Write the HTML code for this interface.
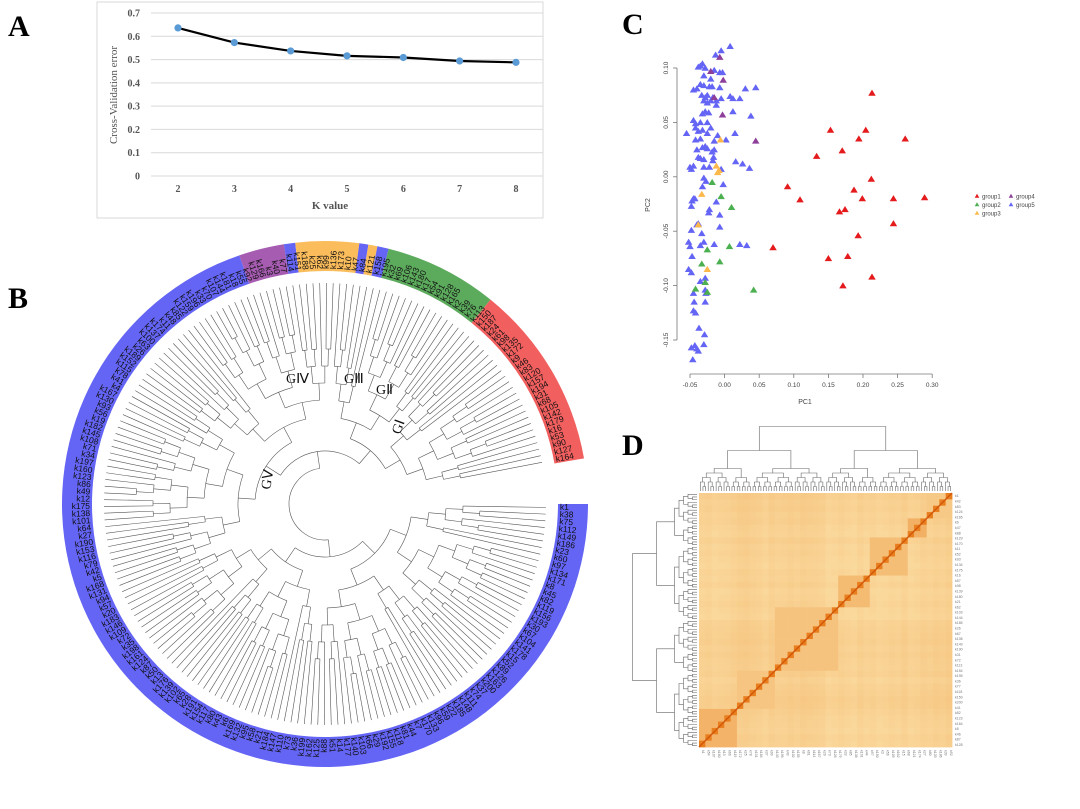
<!DOCTYPE html>
<html><head><meta charset="utf-8"><style>
html,body{margin:0;padding:0;background:#fff}
svg{display:block}
text{font-family:"Liberation Serif",serif}
.sans{font-family:"Liberation Sans",sans-serif}
</style></head><body>
<svg id="fig" width="1080" height="809" viewBox="0 0 1080 809" xmlns="http://www.w3.org/2000/svg">
<text x="8" y="36" font-size="30" font-weight="bold">A</text>
<text x="8" y="308" font-size="30" font-weight="bold">B</text>
<text x="622" y="34" font-size="30" font-weight="bold">C</text>
<text x="622" y="455" font-size="30" font-weight="bold">D</text>
<g id="panelA"></g>
<g id="panelB"></g>
<g id="panelC"></g>
<g id="panelD"></g>
</svg>
<script>
const NS="http://www.w3.org/2000/svg";
function mk(tag,attrs,parent,txt){const e=document.createElementNS(NS,tag);for(const k in attrs)e.setAttribute(k,attrs[k]);if(txt!==undefined)e.textContent=txt;parent.appendChild(e);return e;}

/* ---------- Panel A data ---------- */
const kValues=[2,3,4,5,6,7,8];
const cvError=[0.636,0.573,0.537,0.516,0.509,0.494,0.488];
const cvTicks=[0,0.1,0.2,0.3,0.4,0.5,0.6,0.7];

/* ---------- Panel C data ---------- */
const g1x=[0.213,0.153,0.204,0.261,0.194,0.17,0.133,0.212,0.091,0.187,0.109,0.199,0.244,0.289,0.166,0.174,0.244,0.193,0.07,0.15,0.178,0.213,0.171];
const g1y=[0.077,0.043,0.043,0.035,0.035,0.024,0.019,-0.002,-0.009,-0.012,-0.021,-0.02,-0.02,-0.019,-0.032,-0.03,-0.043,-0.054,-0.065,-0.075,-0.073,-0.092,-0.1];
const g2x=[-0.018,-0.005,0.01,0.007,-0.025,-0.033,-0.007,-0.042,-0.028,-0.025,0.042];
const g2y=[-0.005,-0.018,-0.028,-0.064,-0.067,-0.08,-0.078,-0.103,-0.097,-0.106,-0.104];
const g3x=[-0.006,-0.012,-0.008,-0.033,-0.025,-0.038,-0.01];
const g3y=[0.034,0.01,0.006,-0.016,-0.085,-0.044,0.004];
const g4x=[-0.007,-0.02,-0.002,-0.003,0.045,-0.015];
const g4y=[0.11,0.097,0.089,0.057,0.033,0.073];
const g5x=[0.008,-0.005,-0.013,-0.035,-0.032,-0.038,-0.028,-0.015,-0.007,-0.003,-0.03,-0.02,-0.035,-0.03,-0.022,-0.018,-0.007,-0.045,-0.04,0.03,0.045,-0.033,-0.028,-0.025,-0.02,-0.017,-0.012,-0.005,0.008,0.012,0.022,-0.03,-0.025,-0.012,-0.032,-0.028,-0.023,0.012,0.038,-0.045,-0.042,-0.035,-0.025,-0.055,-0.042,-0.038,-0.032,-0.02,-0.025,-0.01,0.015,-0.042,-0.035,-0.015,0.002,-0.04,-0.032,-0.028,-0.025,-0.018,-0.015,-0.038,-0.035,-0.03,-0.016,-0.017,-0.05,-0.048,-0.045,-0.03,-0.022,-0.005,0.016,0.026,0.036,-0.03,-0.027,-0.032,-0.002,-0.045,-0.047,-0.043,-0.012,-0.048,-0.022,-0.023,-0.007,-0.04,-0.038,-0.007,-0.048,-0.033,-0.052,-0.05,-0.035,-0.03,-0.015,0.022,0.032,-0.047,-0.052,-0.048,-0.035,-0.028,-0.045,-0.028,-0.027,-0.028,-0.044,-0.045,-0.042,-0.037,-0.029,-0.048,-0.043,-0.04,-0.038,-0.03,-0.046];
const g5y=[0.12,0.116,0.112,0.102,0.104,0.101,0.1,0.098,0.096,0.096,0.093,0.09,0.085,0.084,0.083,0.083,0.082,0.08,0.081,0.081,0.082,0.075,0.073,0.075,0.07,0.073,0.07,0.072,0.074,0.072,0.072,0.07,0.068,0.066,0.058,0.06,0.059,0.06,0.056,0.052,0.049,0.05,0.05,0.04,0.045,0.042,0.043,0.045,0.04,0.038,0.04,0.034,0.035,0.033,0.034,0.025,0.027,0.028,0.026,0.023,0.025,0.018,0.017,0.016,0.018,0.015,0.009,0.007,0.01,0.009,0.009,0.007,0.014,0.012,0.008,-0.001,-0.004,-0.009,-0.007,-0.02,-0.022,-0.02,-0.023,-0.027,-0.03,-0.033,-0.035,-0.044,-0.043,-0.046,-0.049,-0.052,-0.06,-0.064,-0.063,-0.06,-0.062,-0.062,-0.063,-0.073,-0.085,-0.088,-0.096,-0.093,-0.107,-0.104,-0.107,-0.115,-0.115,-0.123,-0.125,-0.139,-0.145,-0.157,-0.155,-0.158,-0.16,-0.154,-0.168];
const pcXTicks=[-0.05,0,0.05,0.1,0.15,0.2,0.25,0.3];
const pcXTickLabels=["-0.05","0.00","0.05","0.10","0.15","0.20","0.25","0.30"];
const pcYTicks=[0.1,0.05,0,-0.05,-0.1,-0.15];
const pcYTickLabels=["0.10","0.05","0.00","-0.05","-0.10","-0.15"];

/* ---------- Panel B data ---------- */
const treeGroups=["blue","purple","blue","orange","blue","orange","blue","green","red"];
const groupSpanDeg=[[0,251],[251,261],[261,263.5],[263.5,277.5],[277.5,279.5],[279.5,281.5],[281.5,284],[284,309],[309,350]];
const groupColors={blue:"#6464f5",purple:"#a65cb0",orange:"#fbbd5c",green:"#5caa5c",red:"#f25f5f"};

/* ---------- Panel D data ---------- */
const hmRowBase=[0.3,0.26,0.28,0.24,0.26,0.22,0.2,0.26,0.21,0.23,0.2,0.18,0.22,0.2,0.24,0.18,0.2,0.23,0.2,0.18,0.25,0.27,0.28,0.3,0.26,0.29,0.26,0.25,0.28,0.22,0.26,0.28,0.31,0.3,0.26,0.23,0.22,0.2,0.24,0.22];
const hmBlocks=[[0,6,0.45],[6,12,0.33],[12,22,0.34],[22,27,0.4],[27,33,0.38],[33,36,0.48],[36,40,0.3]];

/* ===== Panel A ===== */
(function(){
const g=document.getElementById('panelA');
mk('rect',{x:97,y:2,width:446,height:216,fill:'#fff',stroke:'#d9d9d9','stroke-width':1},g);
const y=v=>176-v/0.7*163, x=k=>178+(k-2)*56.33;
cvTicks.forEach(t=>{
 const l=mk('line',{x1:151,x2:543,y1:y(t),y2:y(t),stroke:'#d9d9d9','stroke-width':1},g);
 
 const tx=mk('text',{x:140,y:y(t)+3.5,'font-size':10,'font-weight':'bold','text-anchor':'end',fill:'#555'},g,t===0?'0':t.toFixed(1));
 
});
kValues.forEach(k=>{const tx=mk('text',{x:x(k),y:192,'font-size':10,'font-weight':'bold','text-anchor':'middle',fill:'#555'},g,String(k));
 });
let d='';kValues.forEach((k,i)=>{d+=(i?'L':'M')+x(k)+','+y(cvError[i]);});
const p=mk('path',{d:d,fill:'none',stroke:'#000','stroke-width':2.2},g);

kValues.forEach((k,i)=>{const c=mk('circle',{cx:x(k),cy:y(cvError[i]),r:3.6,fill:'#5b9bd5'},g);
 });
const xl=mk('text',{x:330,y:209,'font-size':11,'font-weight':'bold','text-anchor':'middle',fill:'#555'},g,'K value');

const yl=mk('text',{x:0,y:0,'font-size':11,'text-anchor':'middle',fill:'#555',transform:'translate(117,95) rotate(-90)'},g,'Cross-Validation error');

})();

/* ===== Panel C ===== */
(function(){
const g=document.getElementById('panelC');
const px=v=>690+(v+0.05)/0.05*34.6, py=v=>68-(v-0.1)/0.05*54.4;
mk('line',{x1:677,x2:677,y1:py(0.1),y2:py(-0.15),stroke:'#777','stroke-width':0.8},g);
mk('line',{x1:px(-0.05),x2:px(0.3),y1:374,y2:374,stroke:'#777','stroke-width':0.8},g);
pcXTicks.forEach((t,i)=>{mk('line',{x1:px(t),x2:px(t),y1:374,y2:378,stroke:'#777','stroke-width':0.8},g);
 const tx=mk('text',{x:px(t),y:387,'font-size':6.5,'text-anchor':'middle',fill:'#444',class:'sans'},g,pcXTickLabels[i]);
 });
pcYTicks.forEach((t,i)=>{mk('line',{x1:673,x2:677,y1:py(t),y2:py(t),stroke:'#777','stroke-width':0.8},g);
 const tx=mk('text',{x:0,y:0,'font-size':6.5,'text-anchor':'middle',fill:'#444',class:'sans',transform:`translate(668,${py(t)}) rotate(-90)`},g,pcYTickLabels[i]);
 });
const a=mk('text',{x:805,y:404,'font-size':7,'text-anchor':'middle',fill:'#444',class:'sans'},g,'PC1');
const b=mk('text',{x:0,y:0,'font-size':7,'text-anchor':'middle',fill:'#444',class:'sans',transform:'translate(650,205) rotate(-90)'},g,'PC2');
function tri(cx,cy,col,name){const s=3.4;const t=mk('polygon',{points:`${cx},${cy-s} ${cx-s*1.1},${cy+s*0.8} ${cx+s*1.1},${cy+s*0.8}`,fill:col},g);
 }
const sets=[[g5x,g5y,'#6464f5','group5-point'],[g2x,g2y,'#4caf50','group2-point'],[g3x,g3y,'#fdb84c','group3-point'],[g4x,g4y,'#8e3f9a','group4-point'],[g1x,g1y,'#e41a1c','group1-point']];
sets.forEach(s=>s[0].forEach((v,i)=>tri(px(v),py(s[1][i]),s[2],s[3])));
const leg=[['group1','#e41a1c',977,196],['group2','#4caf50',977,204.5],['group3','#fdb84c',977,213],['group4','#8e3f9a',1011,196],['group5','#6464f5',1011,204.5]];
leg.forEach(l=>{const lg=mk('g',{},g);
 mk('polygon',{points:`${l[2]},${l[3]-2.3} ${l[2]-2.3},${l[3]+1.7} ${l[2]+2.3},${l[3]+1.7}`,fill:l[1]},lg);
 mk('text',{x:l[2]+5,y:l[3]+2.3,'font-size':6,fill:'#444',class:'sans'},lg,l[0]);});
})();

/* ===== Panel B ===== */
(function(){
const g=document.getElementById('panelB');
const cx=325,cy=504,rIn=233,rOut=263;
const rad=d=>d*Math.PI/180;
const P=(r,d)=>[cx+r*Math.cos(rad(d)),cy+r*Math.sin(rad(d))];
groupSpanDeg.forEach((s,i)=>{const [a0,a1]=s;const p1=P(rOut,a0),p2=P(rOut,a1),p3=P(rIn,a1),p4=P(rIn,a0);const lg=(a1-a0)>180?1:0;
 const e=mk('path',{d:`M${p1}A${rOut},${rOut} 0 ${lg} 1 ${p2}L${p3}A${rIn},${rIn} 0 ${lg} 0 ${p4}Z`,fill:groupColors[treeGroups[i]]},g);
 });
const N=200,step=350/N;
const ang=i=>step*(i+0.5);
for(let i=0;i<N;i++){const a=ang(i);const num=((i*37)%200)+1;const [x,y]=P(rIn+2,a);
 let rot=a, anchor='start';
 if(a>90&&a<270){rot=a+180;anchor='end';}
 const t=mk('text',{x:x,y:y,'font-size':8.5,fill:'#111','text-anchor':anchor,'dominant-baseline':'middle',class:'sans',transform:`rotate(${rot},${x},${y})`},g,'k'+num);
 }
const tg=mk('g',{stroke:'#555','stroke-width':0.6,fill:'none'},g);

const rNode=dp=>Math.min(36+dp*17,195);
function build(a,b,dp){
 if(b-a===1)return{ang:ang(a),r:rIn-12};
 const f=[0.45,0.6,0.5,0.3,0.7,0.55][dp%6];
 let m=a+Math.max(1,Math.min(b-a-1,Math.round((b-a)*f)));
 const r=rNode(dp);
 const L=build(a,m,dp+1),R=build(m,b,dp+1);
 [L,R].forEach(c=>{const p1=P(r,c.ang),p2=P(c.r,c.ang);mk('line',{x1:p1[0],y1:p1[1],x2:p2[0],y2:p2[1]},tg);});
 const p1=P(r,L.ang),p2=P(r,R.ang);const lg=(R.ang-L.ang)>180?1:0;
 mk('path',{d:`M${p1}A${r},${r} 0 ${lg} 1 ${p2}`},tg);
 return{ang:(L.ang+R.ang)/2,r:r};}
build(0,N,0);
const labs=[['GⅤ',270,490,-80],['GⅣ',286,383,0],['GⅢ',344,383,0],['GⅡ',376,394,0],['GⅠ',400,435,-70]];
labs.forEach(l=>{const t=mk('text',{x:l[1],y:l[2],'font-size':14,fill:'#111',transform:`rotate(${l[3]},${l[1]},${l[2]})`},g,l[0]);
 });
})();

/* ===== Panel D ===== */
(function(){
const g=document.getElementById('panelD');
const X0=699,Y0=493,W=253,H=254,n=hmRowBase.length,cw=W/n,ch=H/n;
function val(i,j){
 const ri=n-1-i; if(ri===j)return 0.85;
 let v=(hmRowBase[i]+hmRowBase[n-1-j])/2;
 hmBlocks.forEach(b=>{if(ri>=b[0]&&ri<b[1]&&j>=b[0]&&j<b[1])v=Math.max(v,b[2]);});
 return v;}
function col(v){const c0=[255,242,192],c1=[228,105,0];const t=Math.min(1,v);return `rgb(${c0.map((c,k)=>Math.round(c+(c1[k]-c)*t)).join(',')})`;}
const hg=mk('g',{},g);
for(let i=0;i<n;i++)for(let j=0;j<n;j++){
 mk('rect',{x:X0+j*cw,y:Y0+i*ch,width:cw+0.4,height:ch+0.4,fill:col(val(i,j))},hg);}
mk('line',{x1:X0,y1:Y0+H,x2:X0+W,y2:Y0,stroke:'#d2570a','stroke-width':1.4},g);
const dg=mk('g',{stroke:'#666','stroke-width':0.6,fill:'none'},g);
const M=96;
function dendro(a,b,dp,top){
 if(b-a===1){return{p:a+0.5,h:0};}
 const f=[0.5,0.42,0.58,0.5][dp%4];const m=a+Math.max(1,Math.min(b-a-1,Math.round((b-a)*f)));
 const L=dendro(a,m,dp+1,top),R=dendro(m,b,dp+1,top);
 const h=Math.max(L.h,R.h)+ (dp<2?24-dp*6:4.5);
 if(top){const s=W/M,base=Y0-2;const xx=p=>X0+p*s,yy=hh=>base-hh*1.0;
  mk('path',{d:`M${xx(L.p)},${yy(L.h)}V${yy(h)}H${xx(R.p)}V${yy(R.h)}`},dg);}
 else{const s=H/M,base=X0-2;const yy=p=>Y0+p*s,xx=hh=>base-hh*1.0;
  mk('path',{d:`M${xx(L.h)},${yy(L.p)}H${xx(h)}V${yy(R.p)}H${xx(R.h)}`},dg);}
 return{p:(L.p+R.p)/2,h:h};}
dendro(0,M,0,true);dendro(0,M,0,false);
for(let i=0;i<48;i++){
 const t=mk('text',{x:X0+W+3,y:Y0+(i+0.8)*H/48,'font-size':3.5,fill:'#777',class:'sans'},g,'k'+(((i*41)%200)+1));
 
 const xx=X0+(i+0.6)*W/48;
 const u=mk('text',{x:xx,y:Y0+H+3,'font-size':3.5,fill:'#777',class:'sans',transform:`rotate(90,${xx},${Y0+H+3})`},g,'k'+(((i*53)%200)+1));
 }
})();
</script>
</body></html>
